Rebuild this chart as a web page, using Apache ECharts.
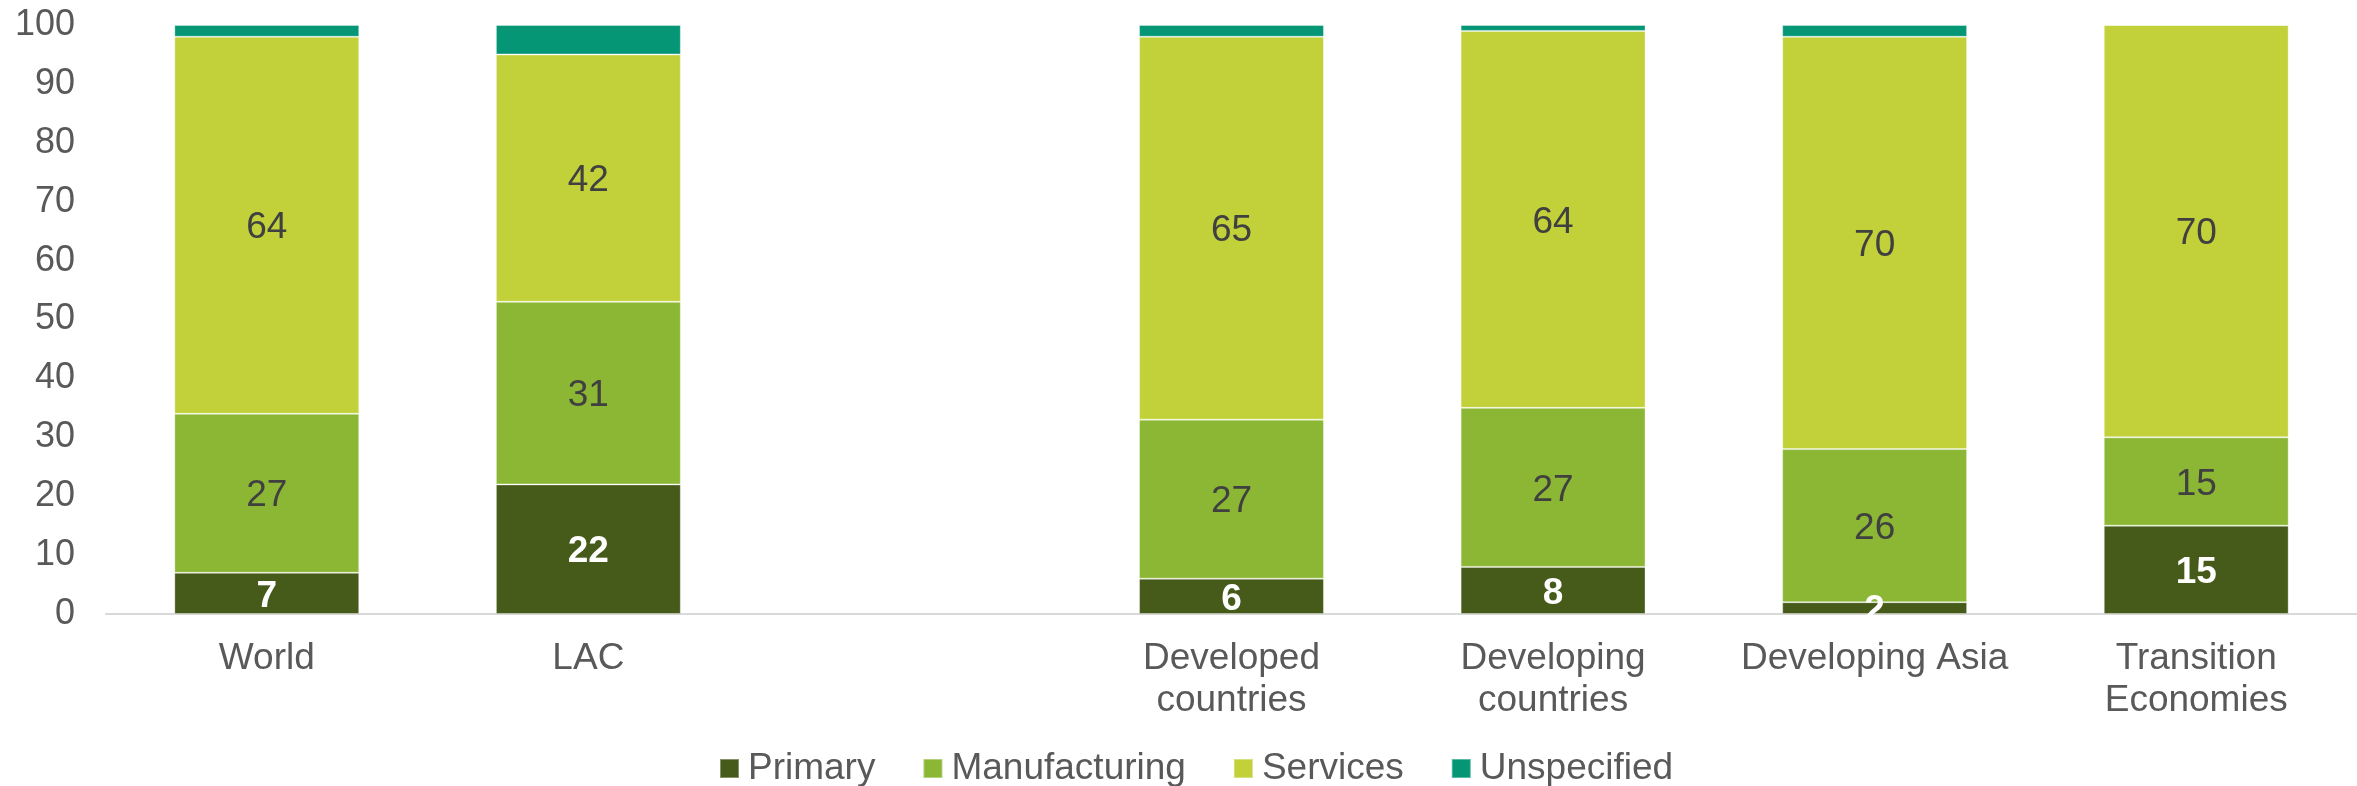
<!DOCTYPE html>
<html>
<head>
<meta charset="utf-8">
<script src="https://cdn.jsdelivr.net/npm/echarts@6/dist/echarts.min.js"></script>
<style>
  html, body { margin: 0; padding: 0; background: #ffffff; }
  #chart { width: 2357px; height: 786px; }
</style>
</head>
<body>
<div id="chart"></div>
<script>
// Regions (an empty slot separates the LAC group from the rest)
const categories = ['World', 'LAC', '', 'Developed\ncountries', 'Developing\ncountries', 'Developing Asia', 'Transition\nEconomies'];

// Shares by sector, per cent
const primary       = [7, 22, null, 6, 8, 2, 15];
const manufacturing = [27, 31, null, 27, 27, 26, 15];
const services      = [64, 42, null, 65, 64, 70, 70];
const unspecified   = [2, 5, null, 2, 1, 2, 0];

const yTicks = { min: 0, max: 100, interval: 10 };

const FONT = '"Liberation Sans", Arial, sans-serif';
const FS = 37;
const colors = {
  primary: '#465A19',
  manufacturing: '#8BB735',
  services: '#C2D13A',
  unspecified: '#049675'
};

function barSeries(name, data, color, label) {
  return {
    name: name,
    type: 'bar',
    stack: 'total',
    data: data,
    barWidth: '57.5%',
    itemStyle: { color: color, borderColor: 'rgba(255,255,255,0.35)', borderWidth: 1 },
    label: label,
    emphasis: { disabled: true }
  };
}

const chart = echarts.init(document.getElementById('chart'));
chart.setOption({
  animation: false,
  textStyle: { fontFamily: FONT },
  grid: { left: 106, right: 0, top: 25, bottom: 172, containLabel: false },
  legend: {
    top: 745,
    left: 714,
    itemWidth: 19,
    itemHeight: 19,
    itemGap: 47,
    icon: 'rect',
    textStyle: { fontFamily: FONT, fontSize: FS, color: '#595959', padding: [0, 0, 0, 4] },
    data: ['Primary', 'Manufacturing', 'Services', 'Unspecified']
  },
  xAxis: {
    type: 'category',
    data: categories,
    axisLine: { lineStyle: { color: '#D9D9D9', width: 2 } },
    axisTick: { show: false },
    axisLabel: {
      interval: 0,
      margin: 24,
      fontFamily: FONT,
      fontSize: FS,
      lineHeight: 42,
      color: '#595959'
    }
  },
  yAxis: {
    type: 'value',
    min: yTicks.min,
    max: yTicks.max,
    interval: yTicks.interval,
    axisLine: { show: false },
    axisTick: { show: false },
    splitLine: { show: false },
    axisLabel: { margin: 31, fontFamily: FONT, fontSize: 36, color: '#595959', padding: [4, 0, 0, 0] }
  },
  graphic: [{
    // keeps the value text of very short bars from spilling below the axis
    type: 'rect',
    z: 100,
    shape: { x: 106, y: 615, width: 2251, height: 18 },
    style: { fill: '#ffffff' },
    silent: true
  }],
  series: [
    barSeries('Primary', primary, colors.primary,
      { show: true, position: 'inside', offset: [0, 3], fontFamily: FONT, fontSize: FS, fontWeight: 'bold', color: '#ffffff' }),
    barSeries('Manufacturing', manufacturing, colors.manufacturing,
      { show: true, position: 'inside', offset: [0, 3], fontFamily: FONT, fontSize: FS, color: '#404040' }),
    barSeries('Services', services, colors.services,
      { show: true, position: 'inside', offset: [0, 3], fontFamily: FONT, fontSize: FS, color: '#404040' }),
    barSeries('Unspecified', unspecified, colors.unspecified, { show: false })
  ]
});
</script>
</body>
</html>
